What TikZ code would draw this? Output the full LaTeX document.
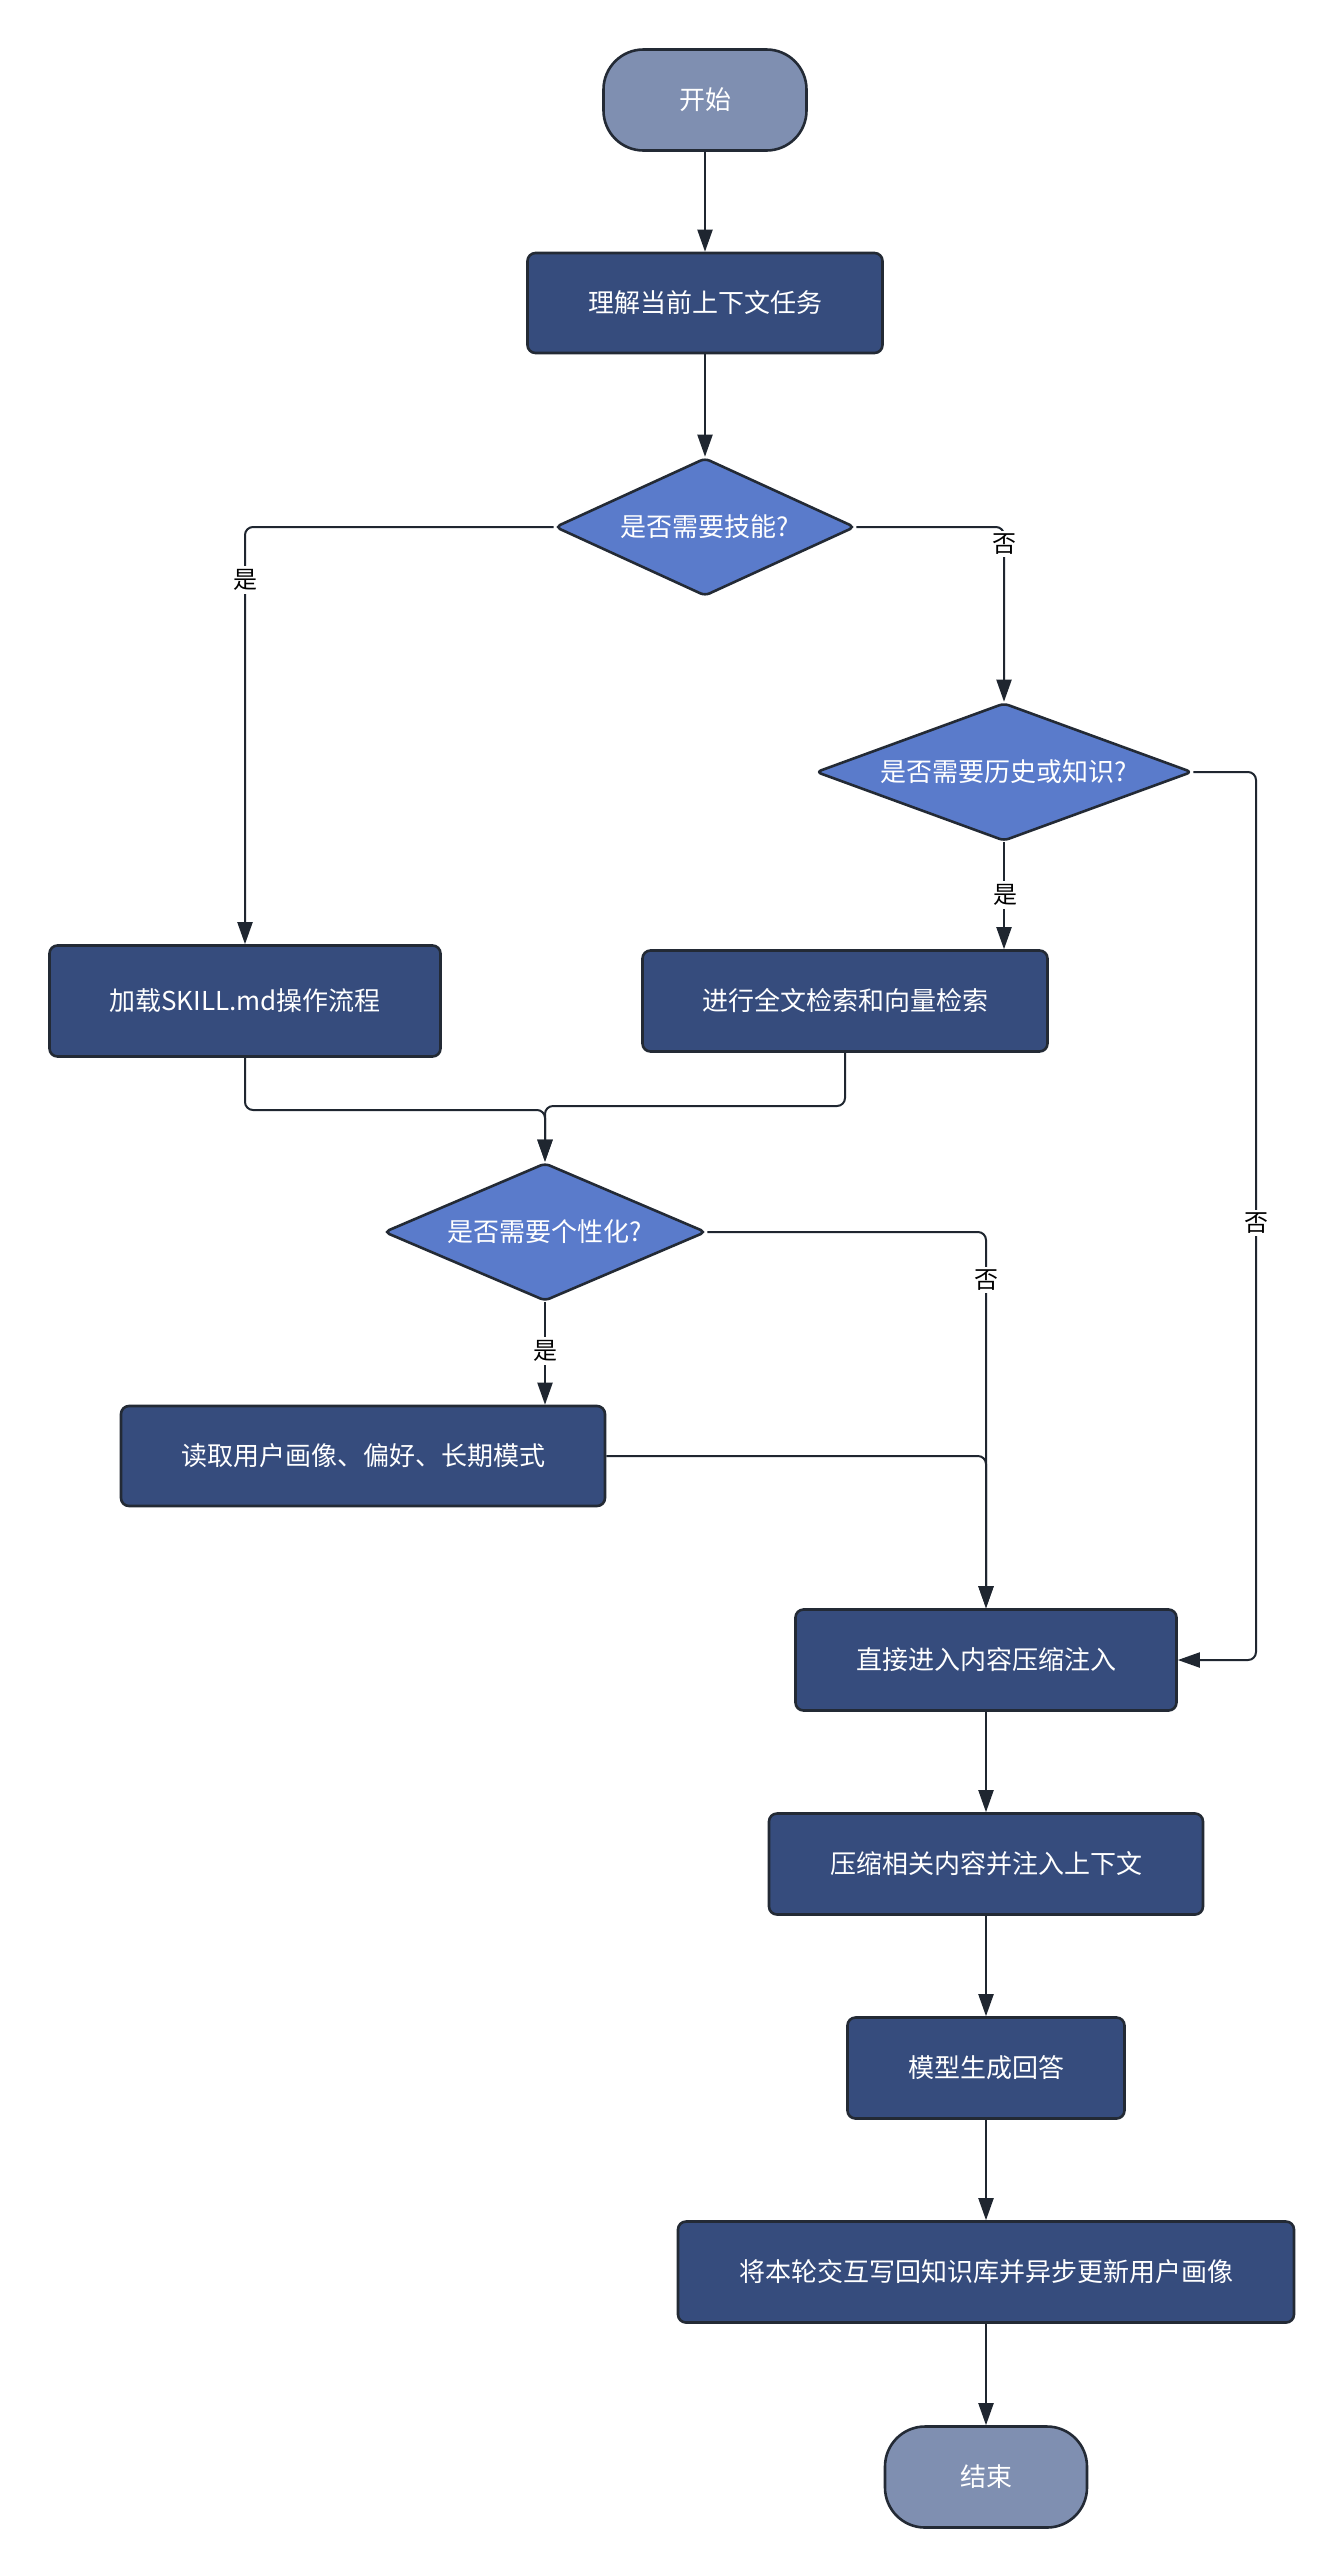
\documentclass[tikz,border=0pt]{standalone}
\usepackage{fontspec}
\setmainfont{Noto Sans CJK SC}
\usetikzlibrary{arrows.meta,shapes.geometric}
\definecolor{termfill}{HTML}{7F8FB1}
\definecolor{boxfill}{HTML}{364C7D}
\definecolor{decfill}{HTML}{5A7BCB}
\definecolor{edgecol}{HTML}{232A35}
\definecolor{linecol}{HTML}{1F2630}
\tikzset{
  base/.style={draw=edgecol, line width=2.6pt, text=white, inner sep=0pt,
    font=\fontsize{26pt}{31pt}\selectfont},
  term/.style={base, fill=termfill, rectangle, rounded corners=40pt},
  procbox/.style={base, fill=boxfill, rectangle, rounded corners=8pt},
  decision/.style={base, fill=decfill, diamond, rounded corners=5pt},
  conn/.style={draw=linecol, line width=2pt, rounded corners=8pt},
  arr/.style={conn, -{Triangle[length=22pt,width=15pt]}},
  lbl/.style={fill=white, text=black, inner sep=3pt,
    font=\fontsize{24pt}{28pt}\selectfont}
}
\begin{document}
\begin{tikzpicture}[x=1pt,y=-1pt]
\useasboundingbox[fill=white] (0,0) rectangle (1340,2576);
% nodes
\node[term, minimum width=203pt, minimum height=101pt] (start) at (705,100) {开始};
\node[procbox, minimum width=355pt, minimum height=100pt] (b1) at (705,303) {理解当前上下文任务};
\node[decision, minimum width=300pt, minimum height=138pt, aspect=2.17] (d1) at (705,527) {是否需要技能?};
\node[decision, minimum width=376pt, minimum height=138pt, aspect=2.72] (d2) at (1004,772) {是否需要历史或知识?};
\node[procbox, minimum width=391pt, minimum height=111pt] (skill) at (245,1001) {加载SKILL.md操作流程};
\node[procbox, minimum width=405pt, minimum height=101pt] (search) at (845,1001) {进行全文检索和向量检索};
\node[decision, minimum width=322pt, minimum height=138pt, aspect=2.33] (d3) at (545,1232) {是否需要个性化?};
\node[procbox, minimum width=484pt, minimum height=100pt] (read) at (363,1456) {读取用户画像、偏好、长期模式};
\node[procbox, minimum width=381pt, minimum height=101pt] (direct) at (986,1660) {直接进入内容压缩注入};
\node[procbox, minimum width=434pt, minimum height=101pt] (comp) at (986,1864) {压缩相关内容并注入上下文};
\node[procbox, minimum width=277pt, minimum height=101pt] (model) at (986,2068) {模型生成回答};
\node[procbox, minimum width=616pt, minimum height=101pt] (write) at (986,2272) {将本轮交互写回知识库并异步更新用户画像};
\node[term, minimum width=202pt, minimum height=101pt] (end) at (986,2477) {结束};
% coordinates
\coordinate (c1) at (245,527);
\coordinate (c2) at (1004,527);
\coordinate (c3) at (1256,772);
\coordinate (c4) at (1256,1660);
\coordinate (c5) at (245,1110);
\coordinate (c6) at (545,1110);
\coordinate (c7) at (845,1106);
\coordinate (c8) at (545,1106);
\coordinate (c9) at (986,1232);
\coordinate (c10) at (986,1456);
% connectors
\draw[arr] (start) -- (b1);
\draw[arr] (b1) -- (d1);
\draw[arr] (d1.west) -- (c1) -- (skill.north);
\draw[arr] (d1.east) -- (c2) -- (d2.north);
\draw[arr] (d2.south) -- (d2.south |- search.north);
\draw[arr] (d2.east) -- (c3) -- (c4) -- (direct.east);
\draw[arr] (skill.south) -- (c5) -- (c6) -- (d3.north);
\draw[arr] (search.south) -- (c7) -- (c8) -- (d3.north);
\draw[arr] (d3.east) -- (c9) -- (direct.north);
\draw[arr] (d3.south) -- (d3.south |- read.north);
\draw[arr] (read.east) -- (c10) -- (direct.north);
\draw[arr] (direct) -- (comp);
\draw[arr] (comp) -- (model);
\draw[arr] (model) -- (write);
\draw[arr] (write) -- (end);
% labels
\node[lbl] (l1) at (245,580) {是};
\node[lbl] (l2) at (1004,544) {否};
\node[lbl] (l3) at (1005,895) {是};
\node[lbl] (l4) at (1256,1223) {否};
\node[lbl] (l5) at (986,1280) {否};
\node[lbl] (l6) at (545,1351) {是};
\end{tikzpicture}
\end{document}
